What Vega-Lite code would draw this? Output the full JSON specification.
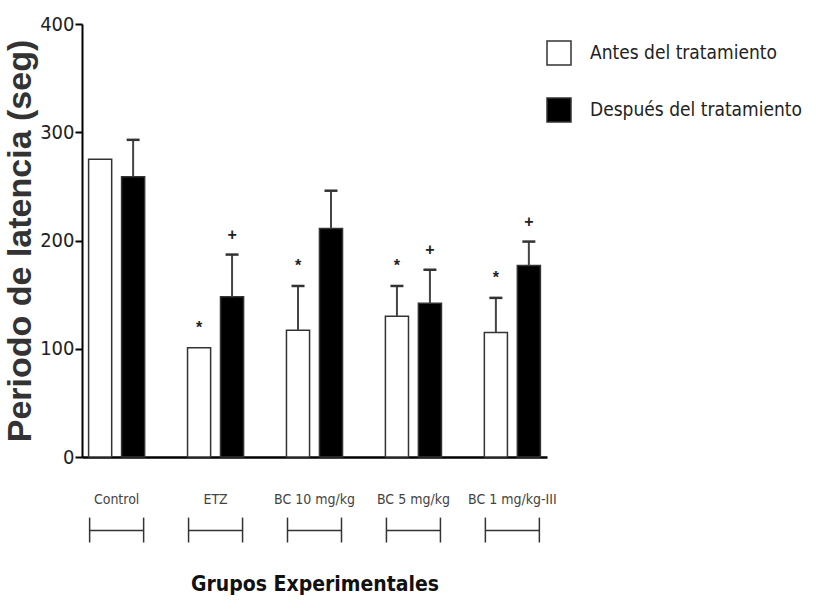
{
  "$schema": "https://vega.github.io/schema/vega-lite/v6.json",
  "autosize": {"type": "none"},
  "width": 465,
  "height": 433,
  "padding": {"left": 82, "top": 24, "right": 269, "bottom": 156},
  "background": "white",
  "config": {"view": {"stroke": null}},
  "data": {
    "values": [
      {"grupo": "Control", "fase": "Antes del tratamiento", "media": 275, "sup": 275, "sig": ""},
      {"grupo": "Control", "fase": "Después del tratamiento", "media": 259, "sup": 293, "sig": ""},
      {"grupo": "ETZ", "fase": "Antes del tratamiento", "media": 101, "sup": 101, "sig": "*"},
      {"grupo": "ETZ", "fase": "Después del tratamiento", "media": 148, "sup": 187, "sig": "+"},
      {"grupo": "BC 10 mg/kg", "fase": "Antes del tratamiento", "media": 117, "sup": 158, "sig": "*"},
      {"grupo": "BC 10 mg/kg", "fase": "Después del tratamiento", "media": 211, "sup": 246, "sig": ""},
      {"grupo": "BC 5 mg/kg", "fase": "Antes del tratamiento", "media": 130, "sup": 158, "sig": "*"},
      {"grupo": "BC 5 mg/kg", "fase": "Después del tratamiento", "media": 142, "sup": 173, "sig": "+"},
      {"grupo": "BC 1 mg/kg-III", "fase": "Antes del tratamiento", "media": 115, "sup": 147, "sig": "*"},
      {"grupo": "BC 1 mg/kg-III", "fase": "Después del tratamiento", "media": 177, "sup": 199, "sig": "+"}
    ]
  },
  "encoding": {
    "x": {
      "field": "grupo",
      "type": "nominal",
      "sort": null,
      "scale": {"paddingInner": 0.3, "paddingOuter": 0},
      "axis": {
        "title": "Grupos Experimentales",
        "labelAngle": 0,
        "ticks": false,
        "tickSize": 0,
        "labelPadding": 35,
        "labelFont": "DejaVu Sans Condensed",
        "labelFontSize": 14,
        "labelColor": "#444",
        "labelLimit": 200,
        "domainColor": "#000",
        "domainWidth": 2.5,
        "titleFont": "DejaVu Sans Condensed",
        "titleFontSize": 21,
        "titleFontWeight": "bold",
        "titleColor": "#111",
        "titlePadding": 67
      }
    }
  },
  "layer": [
    {
      "mark": {"type": "bar", "stroke": "#333", "strokeWidth": 1.5},
      "encoding": {
        "xOffset": {"field": "fase", "type": "nominal", "scale": {"paddingInner": 0.3, "paddingOuter": 0.2}},
        "y": {
          "field": "media",
          "type": "quantitative",
          "scale": {"domain": [0, 400], "nice": false},
          "axis": {
            "values": [0, 100, 200, 300, 400],
            "grid": false,
            "title": "Periodo de latencia (seg)",
            "titleFont": "Liberation Sans",
            "titleFontSize": 34,
            "titleFontWeight": "bold",
            "titleColor": "#333",
            "titlePadding": 2,
            "labelFont": "DejaVu Sans Condensed",
            "labelFontSize": 20,
            "labelColor": "#222",
            "labelPadding": 1,
            "tickSize": 7,
            "tickWidth": 2,
            "tickColor": "#000",
            "domainColor": "#000",
            "domainWidth": 2
          }
        },
        "fill": {
          "field": "fase",
          "type": "nominal",
          "scale": {"domain": ["Antes del tratamiento", "Después del tratamiento"], "range": ["#ffffff", "#000000"]},
          "legend": {
            "title": null,
            "orient": "none",
            "legendX": 464,
            "legendY": 16,
            "padding": 0,
            "symbolType": "square",
            "symbolSize": 576,
            "symbolStrokeColor": "#333",
            "symbolStrokeWidth": 1.5,
            "labelFont": "DejaVu Sans Condensed",
            "labelFontSize": 19,
            "labelColor": "#222",
            "labelLimit": 400,
            "labelOffset": 18,
            "rowPadding": 27
          }
        }
      }
    },
    {
      "transform": [{"filter": "datum.sup > datum.media"}],
      "mark": {"type": "rule", "stroke": "#444", "strokeWidth": 2},
      "encoding": {
        "xOffset": {"field": "fase", "type": "nominal"},
        "y": {"field": "media", "type": "quantitative"},
        "y2": {"field": "sup"}
      }
    },
    {
      "transform": [{"filter": "datum.sup > datum.media"}],
      "mark": {"type": "tick", "orient": "horizontal", "color": "#333", "size": 13, "thickness": 2.5, "opacity": 1},
      "encoding": {
        "xOffset": {"field": "fase", "type": "nominal"},
        "y": {"field": "sup", "type": "quantitative"}
      }
    },
    {
      "mark": {"type": "text", "font": "Liberation Sans", "fontSize": 16, "fontWeight": "bold", "color": "#222", "baseline": "middle", "dy": -20},
      "encoding": {
        "xOffset": {"field": "fase", "type": "nominal"},
        "y": {"field": "sup", "type": "quantitative"},
        "text": {"field": "sig"}
      }
    },
    {
      "transform": [{"filter": "datum.fase == 'Antes del tratamiento'"}],
      "mark": {"type": "tick", "orient": "horizontal", "color": "#333", "size": 54, "thickness": 1.5, "opacity": 1},
      "encoding": {"y": {"datum": -68}}
    },
    {
      "transform": [{"filter": "datum.fase == 'Antes del tratamiento'"}],
      "mark": {"type": "rule", "color": "#333", "strokeWidth": 1.5, "xOffset": -27},
      "encoding": {"y": {"datum": -56}, "y2": {"datum": -79}}
    },
    {
      "transform": [{"filter": "datum.fase == 'Antes del tratamiento'"}],
      "mark": {"type": "rule", "color": "#333", "strokeWidth": 1.5, "xOffset": 27},
      "encoding": {"y": {"datum": -56}, "y2": {"datum": -79}}
    }
  ]
}
